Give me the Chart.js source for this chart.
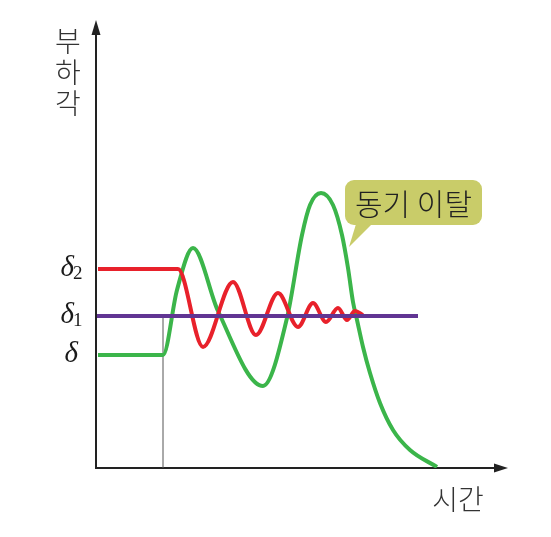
<!DOCTYPE html>
<html>
<head>
<meta charset="utf-8">
<script src="https://cdn.jsdelivr.net/npm/chart.js@4/dist/chart.umd.min.js"></script>
<style>
  body { margin: 0; background: #fff; }
  canvas { display: block; }
</style>
</head>
<body>
<canvas id="myChart" width="551" height="537"></canvas>
<script>
// levels on the load-angle axis: δ, δ1, δ2
const levelValues = [113, 152, 199];
const levelSubs = ['', '1', '2'];

// green: load angle that loses synchronism
const greenX = [2, 67, 81, 97, 122, 167, 191, 206, 214, 225, 237, 246, 252, 257, 261, 267, 274, 284, 297, 314, 341];
const greenY = [113, 113, 178, 220, 157, 82, 150, 233, 263, 275, 263, 233, 200, 166, 148, 121, 95, 65, 38, 18, 1];

// red: damped swing back to δ1
const redX = [2, 82, 107, 137, 160, 182, 202, 217, 230, 242, 251, 259, 267];
const redY = [199, 199, 121, 186, 133, 175, 141, 165, 146, 160, 148, 157, 153];

// purple: new steady level δ1
const purpleX = [1, 322];
const purpleY = [152, 152];

// thin marker where the disturbance starts
const markX = [67, 67];
const markY = [0, 152];

const toPts = (xs, ys) => xs.map((x, i) => ({ x: x, y: ys[i] }));

const chartContainer = document.getElementById('myChart');

const drawing = {
  id: 'drawing',
  beforeDatasetsDraw(chart) {
    const ctx = chart.ctx;
    const a = chart.chartArea;
    ctx.save();
    ctx.strokeStyle = '#222';
    ctx.fillStyle = '#222';
    ctx.lineWidth = 2;
    ctx.beginPath();
    ctx.moveTo(a.left, a.top + 12);
    ctx.lineTo(a.left, a.bottom);
    ctx.lineTo(a.right - 10, a.bottom);
    ctx.stroke();
    // arrow heads
    ctx.beginPath();
    ctx.moveTo(a.left, a.top);
    ctx.lineTo(a.left - 4.5, a.top + 15);
    ctx.lineTo(a.left + 4.5, a.top + 15);
    ctx.closePath();
    ctx.fill();
    ctx.beginPath();
    ctx.moveTo(a.right, a.bottom);
    ctx.lineTo(a.right - 14, a.bottom - 4.5);
    ctx.lineTo(a.right - 14, a.bottom + 4.5);
    ctx.closePath();
    ctx.fill();
    ctx.restore();
  },
  afterDatasetsDraw(chart) {
    const ctx = chart.ctx;
    const y = chart.scales.y;
    ctx.save();
    ctx.fillStyle = '#1a1a1a';
    // δ labels
    ctx.textBaseline = 'alphabetic';
    levelValues.forEach((v, i) => {
      const py = y.getPixelForValue(v);
      ctx.font = 'italic 29px "Liberation Serif"';
      ctx.textAlign = 'right';
      const right = levelSubs[i] ? 74 : 78;
      ctx.fillText('δ', right, py + 7);
      if (levelSubs[i]) {
        ctx.font = '19px "Liberation Serif"';
        ctx.textAlign = 'left';
        ctx.fillText(levelSubs[i], 73, py + 10);
      }
    });
    // axis titles
    ctx.textBaseline = 'middle';
    ctx.font = '300 28px "Noto Sans CJK KR"';
    ctx.textAlign = 'center';
    ctx.fillStyle = '#333';
    ['부', '하', '각'].forEach((ch, i) => ctx.fillText(ch, 68, 41 + i * 31));
    ctx.fillText('시간', 458, 499);

    // callout bubble
    const bx = 345, by = 180, bw = 137, bh = 45, r = 9;
    ctx.fillStyle = '#c9cc69';
    ctx.beginPath();
    ctx.moveTo(bx + r, by);
    ctx.arcTo(bx + bw, by, bx + bw, by + bh, r);
    ctx.arcTo(bx + bw, by + bh, bx, by + bh, r);
    ctx.arcTo(bx, by + bh, bx, by, r);
    ctx.arcTo(bx, by, bx + bw, by, r);
    ctx.closePath();
    ctx.fill();
    ctx.beginPath();
    ctx.moveTo(356, by + bh - 1);
    ctx.lineTo(372, by + bh - 1);
    ctx.lineTo(349, 247);
    ctx.closePath();
    ctx.fill();
    ctx.fillStyle = '#222';
    ctx.font = '300 30px "Noto Sans CJK KR"';
    ctx.fillText('동기 이탈', bx + bw / 2, by + bh / 2 + 1);
    ctx.restore();
  }
};

const chartConfiguration = {
  type: 'line',
  data: {
    datasets: [
      { data: toPts(purpleX, purpleY), borderColor: '#613593', borderWidth: 4, order: 0 },
      { data: toPts(redX, redY), borderColor: '#e8212b', borderWidth: 4, cubicInterpolationMode: 'monotone', order: 1 },
      { data: toPts(greenX, greenY), borderColor: '#3bb54a', borderWidth: 4, cubicInterpolationMode: 'monotone', order: 2 },
      { data: toPts(markX, markY), borderColor: '#555', borderWidth: 1, order: 3 }
    ]
  },
  options: {
    responsive: false,
    animation: false,
    layout: { padding: { left: 96, right: 43, top: 20, bottom: 69 } },
    elements: { point: { radius: 0 }, line: { borderCapStyle: 'butt' } },
    scales: {
      x: { type: 'linear', min: 0, max: 412, display: false },
      y: { type: 'linear', min: 0, max: 448, display: false }
    },
    plugins: { legend: { display: false }, tooltip: { enabled: false } }
  },
  plugins: [drawing]
};

const myChart = new Chart(chartContainer, chartConfiguration);
</script>
</body>
</html>
